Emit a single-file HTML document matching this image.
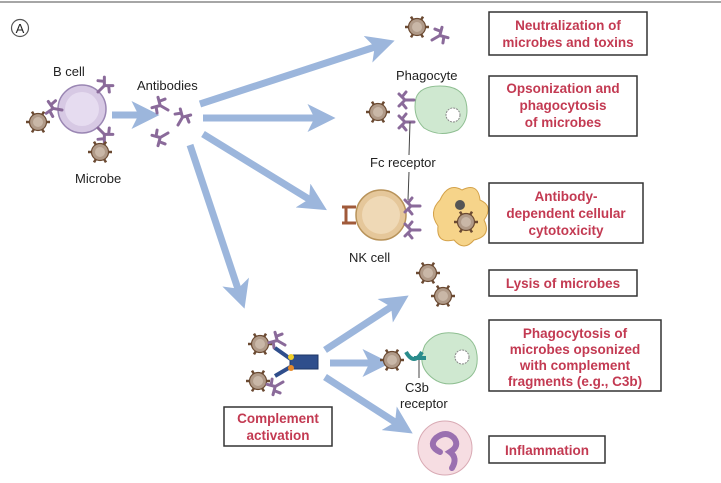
<!DOCTYPE html>
<html><head><meta charset="utf-8"><style>
html,body{margin:0;padding:0;background:#fff}
svg{display:block}
.t{font-family:"Liberation Sans",sans-serif;font-size:13px;fill:#222}
.r{font-family:"Liberation Sans",sans-serif;font-size:13.5px;font-weight:bold;fill:#c33a52;text-anchor:middle}
.box{fill:#fff;stroke:#333;stroke-width:1.5}
.ar{stroke:#9cb6dc;stroke-width:7;fill:none}
</style></head><body>
<svg width="721" height="483" viewBox="0 0 721 483" xmlns="http://www.w3.org/2000/svg">
<defs>
<marker id="ah" markerWidth="4" markerHeight="4" refX="1.5" refY="2" orient="auto" markerUnits="strokeWidth"><path d="M0,0 L4,2 L0,4 L1,2 z" fill="#9cb6dc"/></marker>
<g id="mic"><g stroke="#6b4a32" stroke-width="2.5"><line x1="-12" y1="0" x2="12" y2="0"/><line x1="-6" y1="-10.4" x2="6" y2="10.4"/><line x1="6" y1="-10.4" x2="-6" y2="10.4"/></g><circle r="8.5" fill="#b09a88" stroke="#6b4a32" stroke-width="1.2"/><circle r="5" fill="#c9b7a7"/></g>
<g id="ab" stroke="#8a6a9a" stroke-width="3" fill="none" stroke-linecap="round"><path d="M0,0 L0,-9 M0,-9 L-6,-15 M0,-9 L6,-15 M-3,-12 L-8,-8 M3,-12 L8,-8"/></g>
</defs>
<line x1="0" y1="2" x2="721" y2="2" stroke="#888" stroke-width="1.5"/>
<circle cx="20" cy="28" r="8.5" fill="#fff" stroke="#555" stroke-width="1.2"/>
<text x="20" y="33" text-anchor="middle" class="t" style="font-size:13px">A</text>

<!-- arrows -->
<line class="ar" x1="112" y1="115" x2="142" y2="115" marker-end="url(#ah)"/>
<line class="ar" x1="200" y1="104" x2="378" y2="46" marker-end="url(#ah)"/>
<line class="ar" x1="203" y1="118" x2="318" y2="118" marker-end="url(#ah)"/>
<line class="ar" x1="203" y1="134" x2="312" y2="201" marker-end="url(#ah)"/>
<line class="ar" x1="190" y1="145" x2="239" y2="292" marker-end="url(#ah)"/>
<line class="ar" x1="325" y1="350" x2="394" y2="305" marker-end="url(#ah)"/>
<line class="ar" x1="330" y1="363" x2="373" y2="363" marker-end="url(#ah)"/>
<line class="ar" x1="325" y1="377" x2="398" y2="424" marker-end="url(#ah)"/>

<!-- B cell -->
<circle cx="82" cy="109" r="24" fill="#d7c9e4" stroke="#9a86b3" stroke-width="1.5"/>
<circle cx="82" cy="109" r="17" fill="#e6dcf0"/>
<use href="#ab" transform="translate(98,92) rotate(45)"/>
<use href="#ab" transform="translate(62,110) rotate(-80)"/>
<use href="#ab" transform="translate(98,128) rotate(135)"/>
<use href="#mic" x="38" y="122"/>
<use href="#mic" x="100" y="152"/>
<text x="53" y="76" class="t">B cell</text>
<text x="75" y="183" class="t">Microbe</text>
<text x="137" y="90" class="t">Antibodies</text>
<use href="#ab" transform="translate(168,110) rotate(-60)"/>
<use href="#ab" transform="translate(178,125) rotate(30)"/>
<use href="#ab" transform="translate(168,133) rotate(-120)"/>

<!-- neutralization -->
<use href="#mic" x="417" y="27"/>
<use href="#ab" transform="translate(432,40) rotate(60)"/>

<!-- phagocyte -->
<text x="396" y="80" class="t">Phagocyte</text>
<path d="M416,98 Q420,86 440,86 Q462,86 466,102 Q470,120 458,130 Q440,138 424,128 Q412,116 416,98z" fill="#cfe8d0" stroke="#8fbf92"/>
<circle cx="453" cy="115" r="7" fill="#fff" stroke="#888" stroke-dasharray="2 1"/>
<use href="#mic" x="378" y="112"/>
<use href="#ab" transform="translate(414,100) rotate(-90)"/>
<use href="#ab" transform="translate(414,122) rotate(-90)"/>
<line x1="410" y1="122" x2="409" y2="155" stroke="#444"/>
<text x="370" y="167" class="t">Fc receptor</text>
<line x1="409" y1="172" x2="408" y2="200" stroke="#444"/>

<!-- NK -->
<circle cx="381" cy="215" r="25" fill="#e5c79a" stroke="#b8935a" stroke-width="1.5"/>
<circle cx="381" cy="215" r="19" fill="#efd9b6"/>
<path d="M342,207 h14 M342,223 h14 M346,207 v16" stroke="#a05a3a" stroke-width="3" fill="none"/>
<text x="349" y="262" class="t">NK cell</text>
<use href="#ab" transform="translate(420,206) rotate(-90)"/>
<use href="#ab" transform="translate(420,230) rotate(-90)"/>
<path d="M440,200 q8,-18 22,-10 q16,-8 18,10 q14,6 4,20 q8,16 -10,20 q-10,12 -20,0 q-18,4 -16,-14 q-10,-14 2,-26z" fill="#f6d48a" stroke="#d4a24a"/>
<circle cx="460" cy="205" r="5" fill="#555"/>
<use href="#mic" x="466" y="222" transform="scale(1)"/>

<!-- boxes -->
<rect class="box" x="489" y="12" width="158" height="43"/>
<text class="r" x="568" y="30">Neutralization of</text>
<text class="r" x="568" y="47">microbes and toxins</text>
<rect class="box" x="489" y="76" width="148" height="60"/>
<text class="r" x="563" y="93">Opsonization and</text>
<text class="r" x="563" y="110">phagocytosis</text>
<text class="r" x="563" y="127">of microbes</text>
<rect class="box" x="489" y="183" width="154" height="60"/>
<text class="r" x="566" y="201">Antibody-</text>
<text class="r" x="566" y="218">dependent cellular</text>
<text class="r" x="566" y="235">cytotoxicity</text>
<rect class="box" x="489" y="270" width="148" height="26"/>
<text class="r" x="563" y="288">Lysis of microbes</text>
<rect class="box" x="489" y="320" width="172" height="71"/>
<text class="r" x="575" y="338">Phagocytosis of</text>
<text class="r" x="575" y="354">microbes opsonized</text>
<text class="r" x="575" y="370">with complement</text>
<text class="r" x="575" y="386">fragments (e.g., C3b)</text>
<rect class="box" x="489" y="436" width="116" height="27"/>
<text class="r" x="547" y="455">Inflammation</text>
<rect class="box" x="224" y="407" width="108" height="39"/>
<text class="r" x="278" y="423">Complement</text>
<text class="r" x="278" y="440">activation</text>

<!-- complement -->
<use href="#mic" x="260" y="344"/>
<use href="#mic" x="258" y="381"/>
<use href="#ab" transform="translate(285,345) rotate(-60)"/>
<use href="#ab" transform="translate(283,382) rotate(-120)"/>
<rect x="290" y="355" width="28" height="14" fill="#2f4e8c" stroke="#1e3566"/>
<path d="M275,348 L292,360 M275,376 L292,366" stroke="#2f4e8c" stroke-width="4"/>
<circle cx="291" cy="357" r="3" fill="#f2d02a"/>
<circle cx="291" cy="368" r="3" fill="#e58a2a"/>

<use href="#mic" x="428" y="273"/>
<use href="#mic" x="443" y="296"/>
<path d="M425,345 q10,-14 28,-12 q22,2 24,22 q2,20 -14,26 q-20,8 -34,-6 q-12,-12 -4,-30z" fill="#cfe8d0" stroke="#8fbf92"/>
<circle cx="462" cy="357" r="7" fill="#fff" stroke="#888" stroke-dasharray="2 1"/>
<use href="#mic" x="392" y="360"/>
<path d="M406,352 q8,14 16,0 M414,358 h12" stroke="#2a8c8c" stroke-width="4" fill="none"/>
<line x1="419" y1="360" x2="419" y2="378" stroke="#444"/>
<text x="405" y="392" class="t">C3b</text>
<text x="400" y="408" class="t">receptor</text>

<circle cx="445" cy="448" r="27" fill="#f6dde2" stroke="#d9aab4"/>
<path d="M436,438 q10,-8 18,0 q6,8 -4,14 q8,6 2,16 M436,438 q-8,8 4,14" stroke="#9a70b0" stroke-width="6" fill="none" stroke-linecap="round"/>
</svg>
</body></html>
